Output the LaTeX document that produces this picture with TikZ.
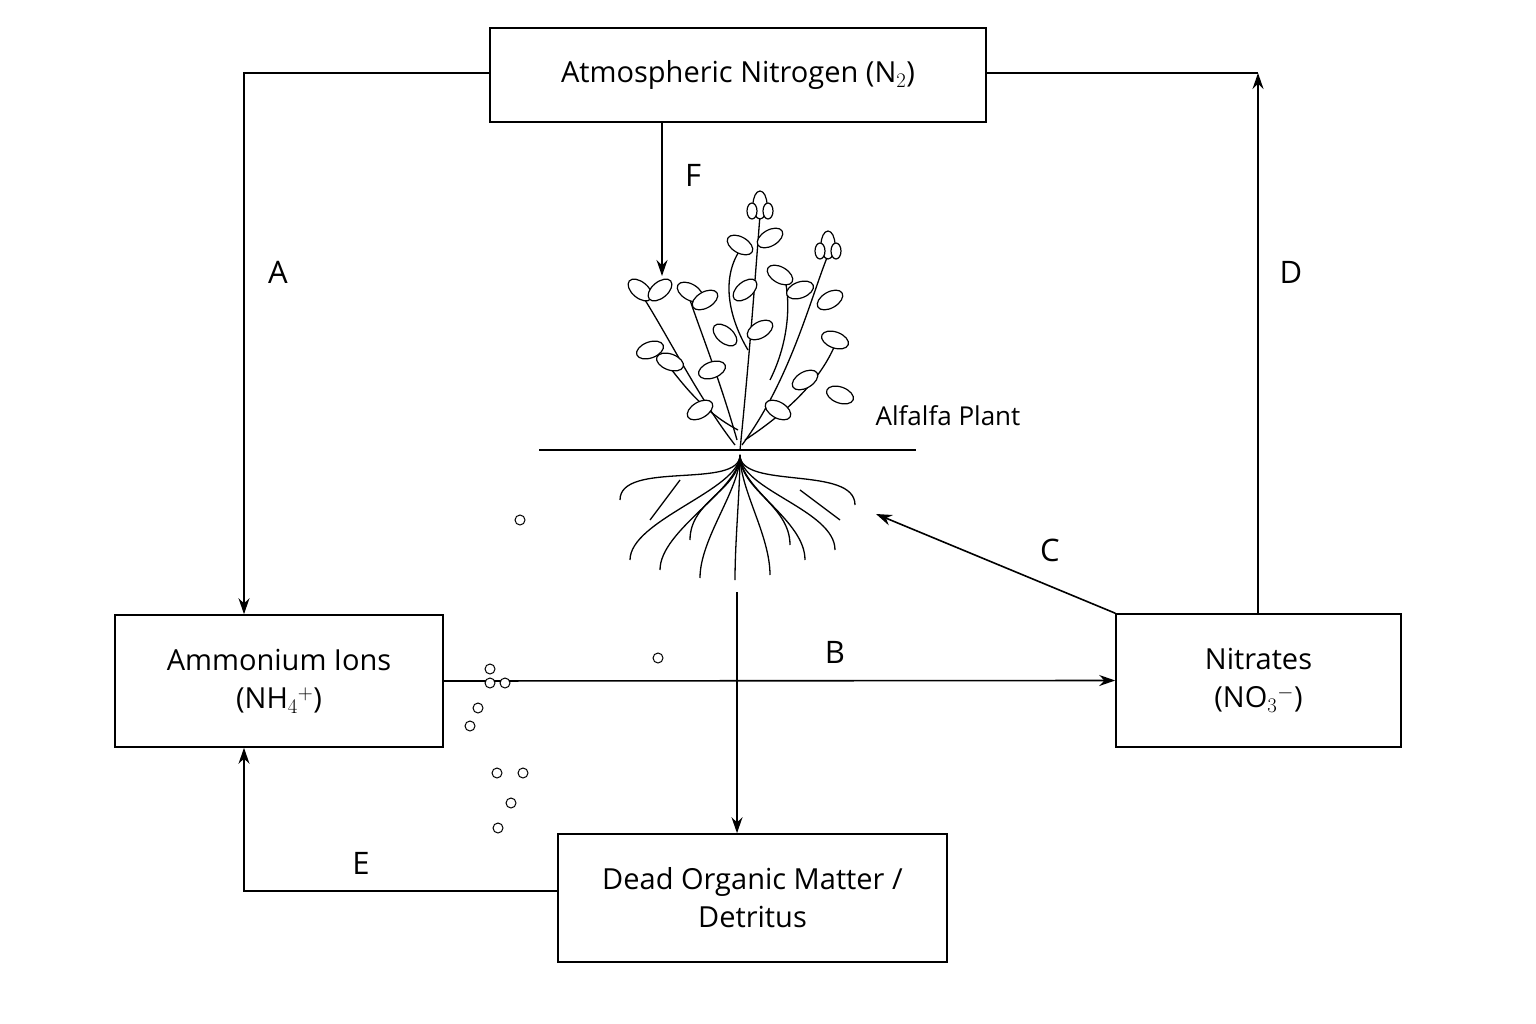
\documentclass[tikz,border=0pt]{standalone}
\usepackage{fontspec}
\setmainfont{Open Sans}
\usetikzlibrary{arrows.meta}
\begin{document}
\begin{tikzpicture}[x=1pt,y=-1pt,
  box/.style={draw,line width=1.6pt,inner sep=0pt,align=center,font=\fontsize{29}{38}\selectfont},
  arr/.style={line width=1.6pt,-{Stealth[length=16pt,width=11pt]}},
  ln/.style={line width=1.6pt},
  lab/.style={font=\fontsize{31}{36}\selectfont},
  pl/.style={line width=1.3pt},
  leaf/.style={draw,line width=1.2pt,fill=white}]
\useasboundingbox (0,0) rectangle (1536,1024);
\node[box,minimum width=496pt,minimum height=94pt] (atm) at (738,75) {Atmospheric Nitrogen (N$_2$)};
\node[box,minimum width=328pt,minimum height=132pt] (amm) at (279,681) {Ammonium Ions\\(NH$_4{}^{+}$)};
\node[box,minimum width=285pt,minimum height=133pt] (nit) at (1258.5,680.5) {Nitrates\\(NO$_3{}^{-}$)};
\node[box,minimum width=389pt,minimum height=128pt] (dead) at (752.5,898) {Dead Organic Matter /\\Detritus};
\coordinate (ca) at (244,73);
\coordinate (cd) at (1258,73);
\coordinate (ce) at (244,891);
\coordinate (fe) at (662,276);
\coordinate (ce2) at (876,514);
\coordinate (vs) at (737,592);
\draw[arr] (atm.west |- ca) -- (ca) -- (amm.north -| ca);
\draw[ln] (atm.east |- cd) -- (cd);
\draw[arr] (nit.north -| cd) -- (cd);
\draw[arr] (atm.south -| fe) -- (fe);
\draw[arr] (nit.north west) -- (ce2);
\draw[arr] (amm.east) -- (nit.west);
\draw[arr] (vs) -- (dead.north -| vs);
\draw[arr] (dead.west |- ce) -- (ce) -- (amm.south -| ce);
\node[lab] (la) at (278,272) {A};
\node[lab] (lb) at (835,652) {B};
\node[lab] (lc) at (1050,550) {C};
\node[lab] (ld) at (1291,272) {D};
\node[lab] (le) at (361,863) {E};
\node[lab] (lf) at (693,175) {F};
\node[font=\fontsize{26}{30}\selectfont] (alf) at (948,416) {Alfalfa Plant};
\coordinate (g1) at (539,450); \coordinate (g2) at (916,450);
\draw[ln] (g1) -- (g2);
% plant stems
\draw[pl] (740,450) .. controls (750,350) and (755,280) .. (760,215);
\draw[pl] (742,445) .. controls (790,380) and (810,300) .. (828,255);
\draw[pl] (735,445) .. controls (700,400) and (670,340) .. (645,300);
\draw[pl] (737,440) .. controls (720,380) and (700,330) .. (690,300);
\draw[pl] (745,440) .. controls (790,410) and (820,380) .. (835,345);
\draw[pl] (738,430) .. controls (700,410) and (680,380) .. (660,355);
\draw[pl] (748,350) .. controls (730,320) and (720,280) .. (740,250);
\draw[pl] (770,380) .. controls (790,340) and (790,300) .. (785,280);
% leaves
\foreach \x/\y/\a in {640/290/-40,660/290/40,690/292/-30,705/300/30,650/350/20,670/362/-20,
  740/245/-30,770/238/30,745/290/40,780/275/-30,800/290/20,830/300/30,
  835/340/-20,805/380/30,840/395/-20,725/335/-40,712/370/20,760/330/30,778/410/-30,700/410/30}
  \draw[leaf,rotate around={\a:(\x,\y)}] (\x,\y) ellipse (14pt and 8pt);
% flowers
\foreach \x/\y in {760/205,828/245}
  {\draw[leaf] (\x,\y) ellipse (7pt and 14pt);
   \draw[leaf] (\x-8,\y+6) ellipse (5pt and 8pt);
   \draw[leaf] (\x+8,\y+6) ellipse (5pt and 8pt);}
% roots
\foreach \ex/\ey in {620/500,630/560,660/570,700/578,735/580,770/575,805/560,835/550,855/505,690/540,790/545}
  \draw[pl] (740,455) .. controls (740,490) and (\ex,\ey-40) .. (\ex,\ey);
\draw[pl] (680,480) -- (650,520);
\draw[pl] (800,490) -- (840,520);
\foreach \x/\y in {658,490/669,505/683,478/708,470/726,523/773,511/803,498/828,497/773,490/683,520}
  \draw[leaf,line width=1pt] (\x,\y) circle (5pt);
\end{tikzpicture}
\end{document}
